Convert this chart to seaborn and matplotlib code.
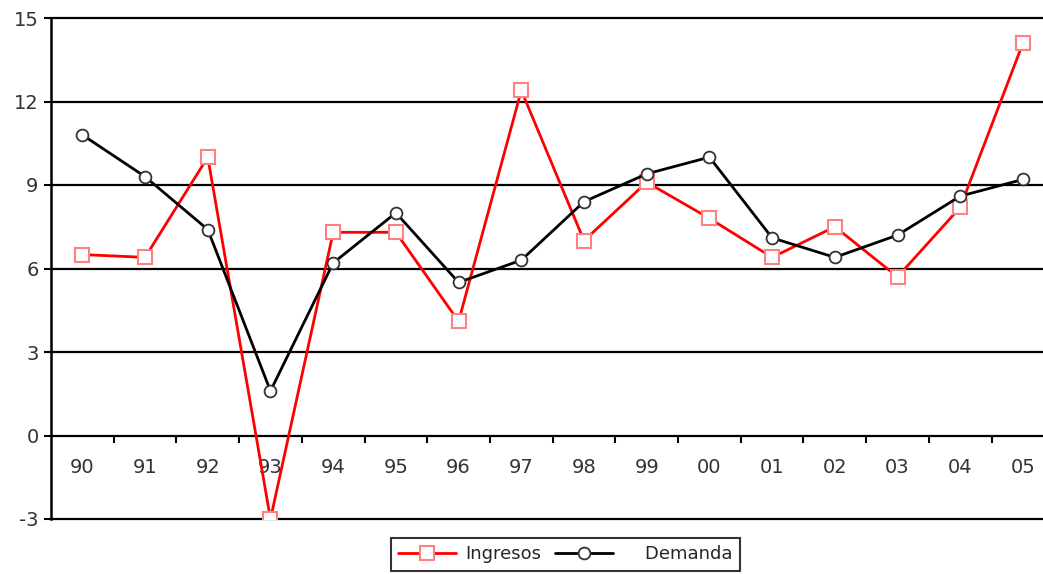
import numpy as np
import pandas as pd
import matplotlib.pyplot as plt
import seaborn as sns
from matplotlib.ticker import FixedLocator

# Values
years = ['90', '91', '92', '93', '94', '95', '96', '97',
         '98', '99', '00', '01', '02', '03', '04', '05']
ingresos = [6.5, 6.4, 10.0, -3.0, 7.3, 7.3, 4.1, 12.4,
            7.0, 9.1, 7.8, 6.4, 7.5, 5.7, 8.2, 14.1]
demanda = [10.8, 9.3, 7.4, 1.6, 6.2, 8.0, 5.5, 6.3,
           8.4, 9.4, 10.0, 7.1, 6.4, 7.2, 8.6, 9.2]
y_ticks = [-3, 0, 3, 6, 9, 12, 15]

df = pd.DataFrame({'Año': years, 'Ingresos': ingresos, 'Demanda': demanda})
df['x'] = np.arange(len(years))

sns.set_style('white')
plt.rcParams['font.family'] = ['DejaVu Sans']
plt.rcParams['axes.unicode_minus'] = False

fig = plt.figure(figsize=(10.43, 5.74), dpi=100)
ax = fig.add_axes([51 / 1043, 1 - 519 / 574, 1 - 51 / 1043, (519 - 18) / 574])

sns.lineplot(data=df, x='x', y='Ingresos', ax=ax, color='#ff0000', lw=2.0,
             marker='s', markersize=9.5, markerfacecolor='white',
             markeredgecolor='#ff8080', markeredgewidth=1.5, label='Ingresos', zorder=4)
sns.lineplot(data=df, x='x', y='Demanda', ax=ax, color='black', lw=2.0,
             marker='o', markersize=8.5, markerfacecolor='white',
             markeredgecolor='#333333', markeredgewidth=1.3, label='    Demanda', zorder=5)

# horizontal grid lines
for v in y_ticks:
    if v != 0:
        ax.axhline(v, color='black', lw=1.6, zorder=1, clip_on=False)

ax.set_ylim(-3, 15)
ax.set_xlim(-0.5, (1043 - 52.7) / 62.6 - 0.5)
ax.set_yticks(y_ticks)
ax.set_xticks(df['x'], years)
ax.xaxis.set_minor_locator(FixedLocator(np.arange(0.5, 15, 1)))

for s in ['top', 'right']:
    ax.spines[s].set_visible(False)
ax.spines['bottom'].set_position(('data', 0))
ax.spines['bottom'].set_color('black')
ax.spines['bottom'].set_linewidth(1.6)
ax.spines['left'].set_color('black')
ax.spines['left'].set_linewidth(1.8)

ax.tick_params(axis='x', which='major', length=0, pad=16, labelsize=14, labelcolor='#333333')
ax.tick_params(axis='x', which='minor', length=5, width=1.5, color='black', direction='out', bottom=True)
ax.tick_params(axis='y', length=5, width=1.5, color='black', direction='out', left=True,
               labelsize=14, labelcolor='#333333', pad=4)
ax.set_xlabel('')
ax.set_ylabel('')

ax.legend_.remove()
h, l = ax.get_legend_handles_labels()
leg = fig.legend(h, l, loc='lower center', bbox_to_anchor=(0.542, -0.01), ncol=2,
                 frameon=True, fancybox=False, edgecolor='black', fontsize=13,
                 handlelength=3.2, columnspacing=0.8, handletextpad=0.5, borderpad=0.4)
leg.get_frame().set_linewidth(1.5)

fig.savefig('out.png', dpi=100)
